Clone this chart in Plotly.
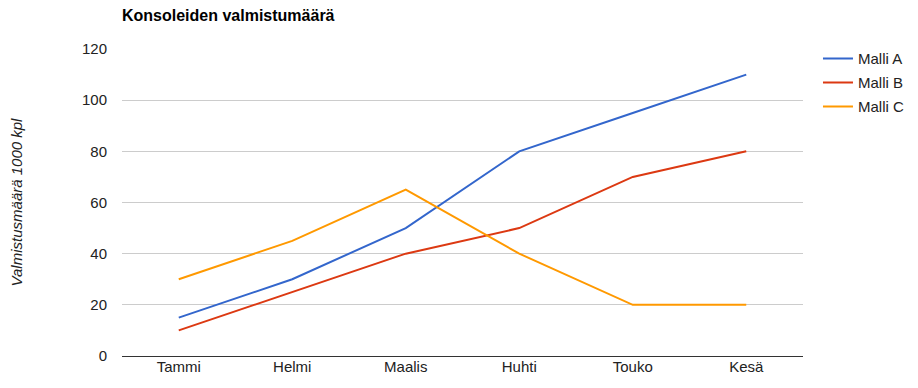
import plotly.graph_objects as go

months = ["Tammi", "Helmi", "Maalis", "Huhti", "Touko", "Kesä"]
malli_a = [15, 30, 50, 80, 95, 110]
malli_b = [10, 25, 40, 50, 70, 80]
malli_c = [30, 45, 65, 40, 20, 20]
y_ticks = [0, 20, 40, 60, 80, 100, 120]

FONT = "Liberation Sans, Arial, Helvetica, sans-serif"

fig = go.Figure()
for name, vals, col in [("Malli A", malli_a, "#3366cc"),
                        ("Malli B", malli_b, "#dc3912"),
                        ("Malli C", malli_c, "#ff9900")]:
    fig.add_trace(go.Scatter(x=months, y=vals, name=name, mode="lines",
                             legendgroup=name,
                             line=dict(color=col, width=2)))

fig.update_layout(
    width=918, height=388,
    margin=dict(l=122, r=115, t=49, b=32, autoexpand=False),
    paper_bgcolor="white", plot_bgcolor="white",
    font=dict(family=FONT, size=15, color="#222"),
    title=dict(text="<b>Konsoleiden valmistumäärä</b>", x=122/918, xanchor="left",
               y=1 - 15/388, yanchor="middle", font=dict(size=16, color="#000")),
    legend=dict(x=1.022, xanchor="left", y=1.022, yanchor="top", xref="paper",
                font=dict(size=15, color="#222"), itemwidth=30,
                tracegroupgap=1.5, bgcolor="rgba(0,0,0,0)"),
    showlegend=True,
)
fig.update_xaxes(range=[-0.5, 5.5], showgrid=False, showline=False, ticks="",
                 tickfont=dict(size=15, color="#222"))
fig.update_yaxes(range=[0, 120], tickvals=y_ticks, showgrid=True, gridcolor="#cccccc",
                 gridwidth=1, zeroline=True, zerolinecolor="#333", zerolinewidth=1,
                 ticks="", ticklabelstandoff=14, tickfont=dict(size=15, color="#222"),
                 title=dict(text="<i>Valmistusmäärä 1000 kpl</i>", standoff=55,
                            font=dict(size=15, color="#222")))

fig.write_html("out.html", config={"displayModeBar": False},
               post_script="document.body.style.margin='0';")
